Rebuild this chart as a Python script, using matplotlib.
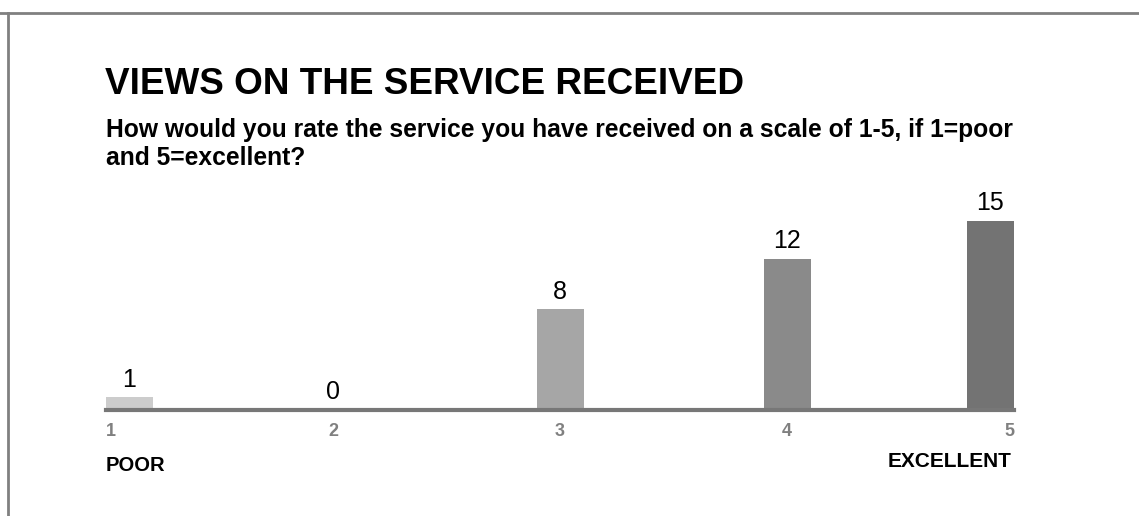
import numpy as np
import matplotlib.pyplot as plt
from matplotlib.lines import Line2D
from matplotlib.transforms import blended_transform_factory

plt.rcParams['font.family'] = ['Liberation Sans', 'DejaVu Sans']

# 数据
ratings = ['1', '2', '3', '4', '5']
counts = [1, 0, 8, 12, 15]
bar_colors = ['#cccccc', '#bbbbbb', '#a6a6a6', '#8a8a8a', '#737373']
end_labels = ['POOR', 'EXCELLENT']

title = 'VIEWS ON THE SERVICE RECEIVED'
subtitle = ('How would you rate the service you have received on a scale of 1-5, if 1=poor\n'
            'and 5=excellent?')

W, H = 1139, 516
fig = plt.figure(figsize=(W / 100, H / 100), dpi=100)

# 外框 (上边和左边)
fig.add_artist(Line2D([0, 1], [1 - 13 / H, 1 - 13 / H], color='#808080', lw=2))
fig.add_artist(Line2D([8 / W, 8 / W], [0, 1 - 13 / H], color='#808080', lw=2))

fig.text(105 / W, 1 - 94 / H, title, fontsize=26.6, fontweight='bold', va='baseline')
# 多行文本: baseline 对齐最后一行
fig.text(106 / W, 1 - 165 / H, subtitle, fontsize=17.75, fontweight='bold', va='baseline',
         linespacing=1.2)

# 坐标轴: 底线在 y=410px, 从 x=106 到 1014
ax_bottom, ax_top = 410, 180
ax = fig.add_axes([106 / W, 1 - ax_bottom / H, 908 / W, (ax_bottom - ax_top) / H])
px_per_unit = 12.6
ax.set_ylim(0, (ax_bottom - ax_top) / px_per_unit)

n = len(ratings)
ax.set_xlim(0, n - 1)
bw = 47 / 908 * (n - 1)
pos = np.arange(n)
centers = np.clip(pos, bw / 2, n - 1 - bw / 2)

ax.bar(centers, counts, width=bw, color=bar_colors, zorder=2)
for x, v in zip(centers, counts):
    ax.annotate(str(v), (x, v), xytext=(0, 4), textcoords='offset points',
                ha='center', va='bottom', fontsize=18)

for s in ['top', 'right', 'left']:
    ax.spines[s].set_visible(False)
ax.spines['bottom'].set_color('#777777')
ax.spines['bottom'].set_linewidth(3)
ax.set_xticks([])
ax.set_yticks([])

trans = blended_transform_factory(ax.transData, ax.transAxes)
aligns = ['left', 'center', 'center', 'center', 'right']
for x, lab, ha in zip(pos, ratings, aligns):
    ax.annotate(lab, (x, 0), xycoords=trans, xytext=(0, -9), textcoords='offset points',
                ha=ha, va='top', fontsize=13, fontweight='bold', color='#808080')

ax.annotate(end_labels[0], (0, 0), xycoords=trans, xytext=(0, -33), textcoords='offset points',
            ha='left', va='top', fontsize=14.5, fontweight='bold')
ax.annotate(end_labels[1], (n - 1, 0), xycoords=trans, xytext=(-2, -30), textcoords='offset points',
            ha='right', va='top', fontsize=15, fontweight='bold')

fig.savefig('out.png', dpi=100)
